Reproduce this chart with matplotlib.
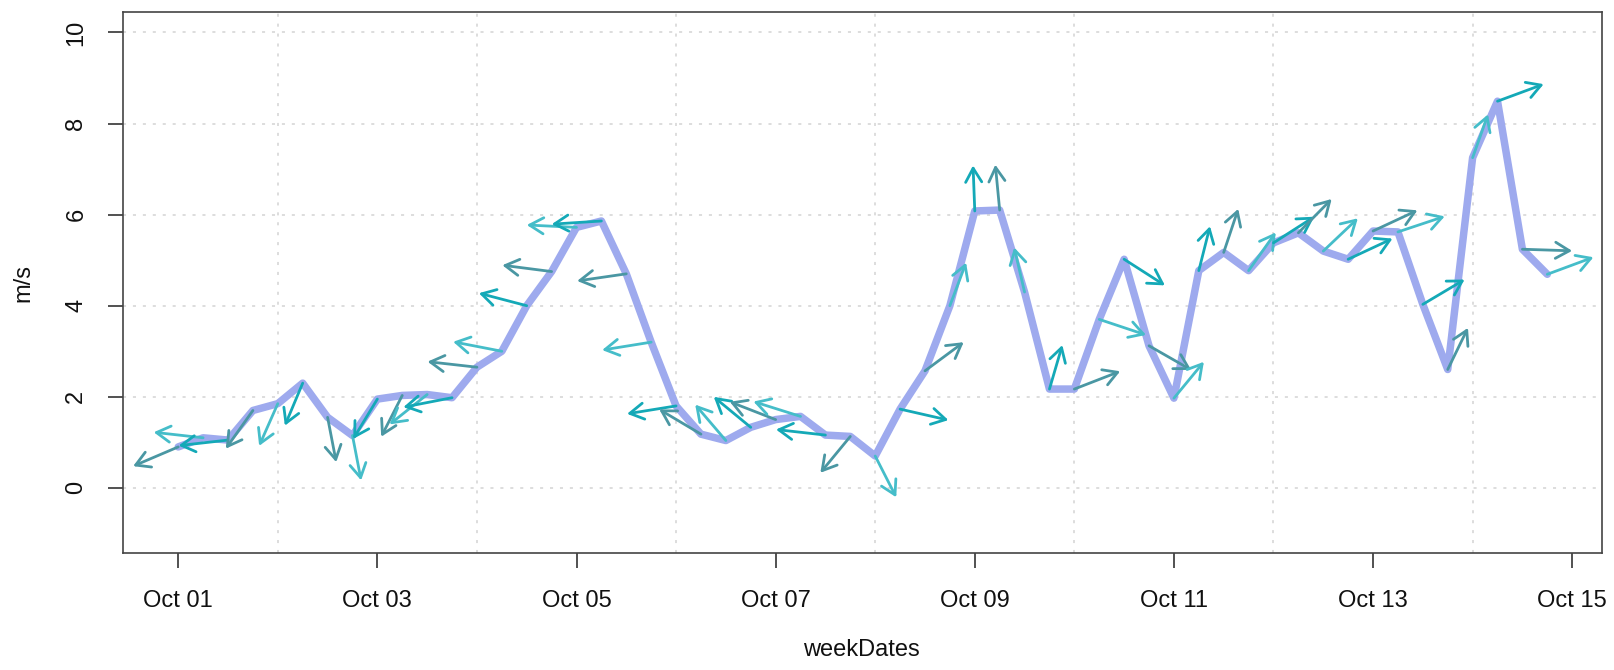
import numpy as np
import pandas as pd
import matplotlib
matplotlib.use('Agg')
import matplotlib.pyplot as plt
import matplotlib.dates as mdates
from matplotlib.patches import FancyArrowPatch

plt.rcParams['font.family'] = ['Liberation Sans', 'DejaVu Sans']

START = '2017-10-01'

# 6-hourly wind speed (m/s)
wind_speed = [0.90, 1.10, 1.05, 1.70, 1.85, 2.30, 1.55, 1.15, 1.95, 2.03,
              2.05, 1.98, 2.65, 3.00, 4.00, 4.75, 5.72, 5.86, 4.70, 3.20,
              1.80, 1.18, 1.04, 1.33, 1.50, 1.57, 1.16, 1.13, 0.70, 1.73,
              2.57, 4.00, 6.08, 6.10, 4.30, 2.17, 2.17, 3.70, 5.02, 3.12,
              1.97, 4.77, 5.17, 4.77, 5.38, 5.60, 5.20, 5.02, 5.64, 5.62,
              4.03, 2.60, 7.25, 8.49, 5.24, 4.69]

# arrow direction, degrees counter-clockwise from east
wind_dir = [205, 173, 187, 237, 248, 249, 280, 280, 241, 245,
            221, 192, 173, 168, 164, 172, 177, 184, 189, 190,
            190, 147, 128, 138, 157, 161, 173, 233, 295, 346,
            39, 71, 92, 95, 102, 75, 23, 340, 325, 328,
            53, 77, 73, 57, 35, 48, 46, 27, 27, 20,
            33, 66, 72, 22, 358, 22]

ARROW_COLS = ['#4A97A3', '#45BDC9', '#14A9B7']
LINE_COL = '#9EAAEE'
GRID_COL = '#D3D3D3'
FS = 17

times = pd.date_range(START, periods=len(wind_speed), freq='6h')
tnum = mdates.date2num(times)
speed = np.array(wind_speed)
ang = np.deg2rad(wind_dir)

fig = plt.figure(figsize=(16.14, 6.70), dpi=100)
ax = fig.add_axes([0.0765, 0.1739, 0.9161, 0.8076])

# R style 4% padding
span = tnum[-1] - tnum[0]
ax.set_xlim(tnum[0] - 0.04 * span, tnum[-1] + 0.04 * span)
ax.set_ylim(-1 - 0.44, 10 + 0.44)

# dotted grid
for y in range(0, 11, 2):
    ax.axhline(y, color=GRID_COL, lw=1.1, ls=(0, (2, 4.5)), zorder=0)
for d in mdates.date2num(pd.date_range(pd.Timestamp(START) + pd.Timedelta('1D'), periods=7, freq='2D')):
    ax.axvline(d, color=GRID_COL, lw=1.1, ls=(0, (2, 4.5)), zorder=0)

ax.plot(tnum, speed, color=LINE_COL, lw=5.4, solid_joinstyle='round',
        solid_capstyle='round', zorder=2)

# wind arrows: half a day wide by 1 m/s tall
for i, (t, s, a) in enumerate(zip(tnum, speed, ang)):
    arr = FancyArrowPatch((t, s), (t + 0.5 * np.cos(a), s + np.sin(a)),
                          arrowstyle='->,head_length=0.5,head_width=0.29',
                          mutation_scale=20, color=ARROW_COLS[i % 3], lw=2.0,
                          shrinkA=0, shrinkB=0, zorder=3)
    ax.add_patch(arr)

xt = pd.date_range(START, periods=8, freq='2D')
ax.set_xticks(mdates.date2num(xt))
ax.set_xticklabels([d.strftime('%b %d') for d in xt])
ax.set_yticks(range(0, 11, 2))
ax.set_yticklabels([str(v) for v in range(0, 11, 2)], rotation=90, va='center')
ax.tick_params(axis='both', length=11, width=1.2, color='#333333',
               labelsize=FS, pad=15, labelcolor='#111111')

for sp in ax.spines.values():
    sp.set_color('#444444')
    sp.set_linewidth(1.2)

fig.text(0.534, 1 - 650 / 670, 'weekDates', ha='center', va='center',
         fontsize=FS, color='#111111')
fig.text(23 / 1614, 0.5 * (0.1739 + 0.9815), 'm/s', ha='center', va='center',
         rotation=90, fontsize=FS, color='#111111')

fig.savefig('out.png', dpi=100)
